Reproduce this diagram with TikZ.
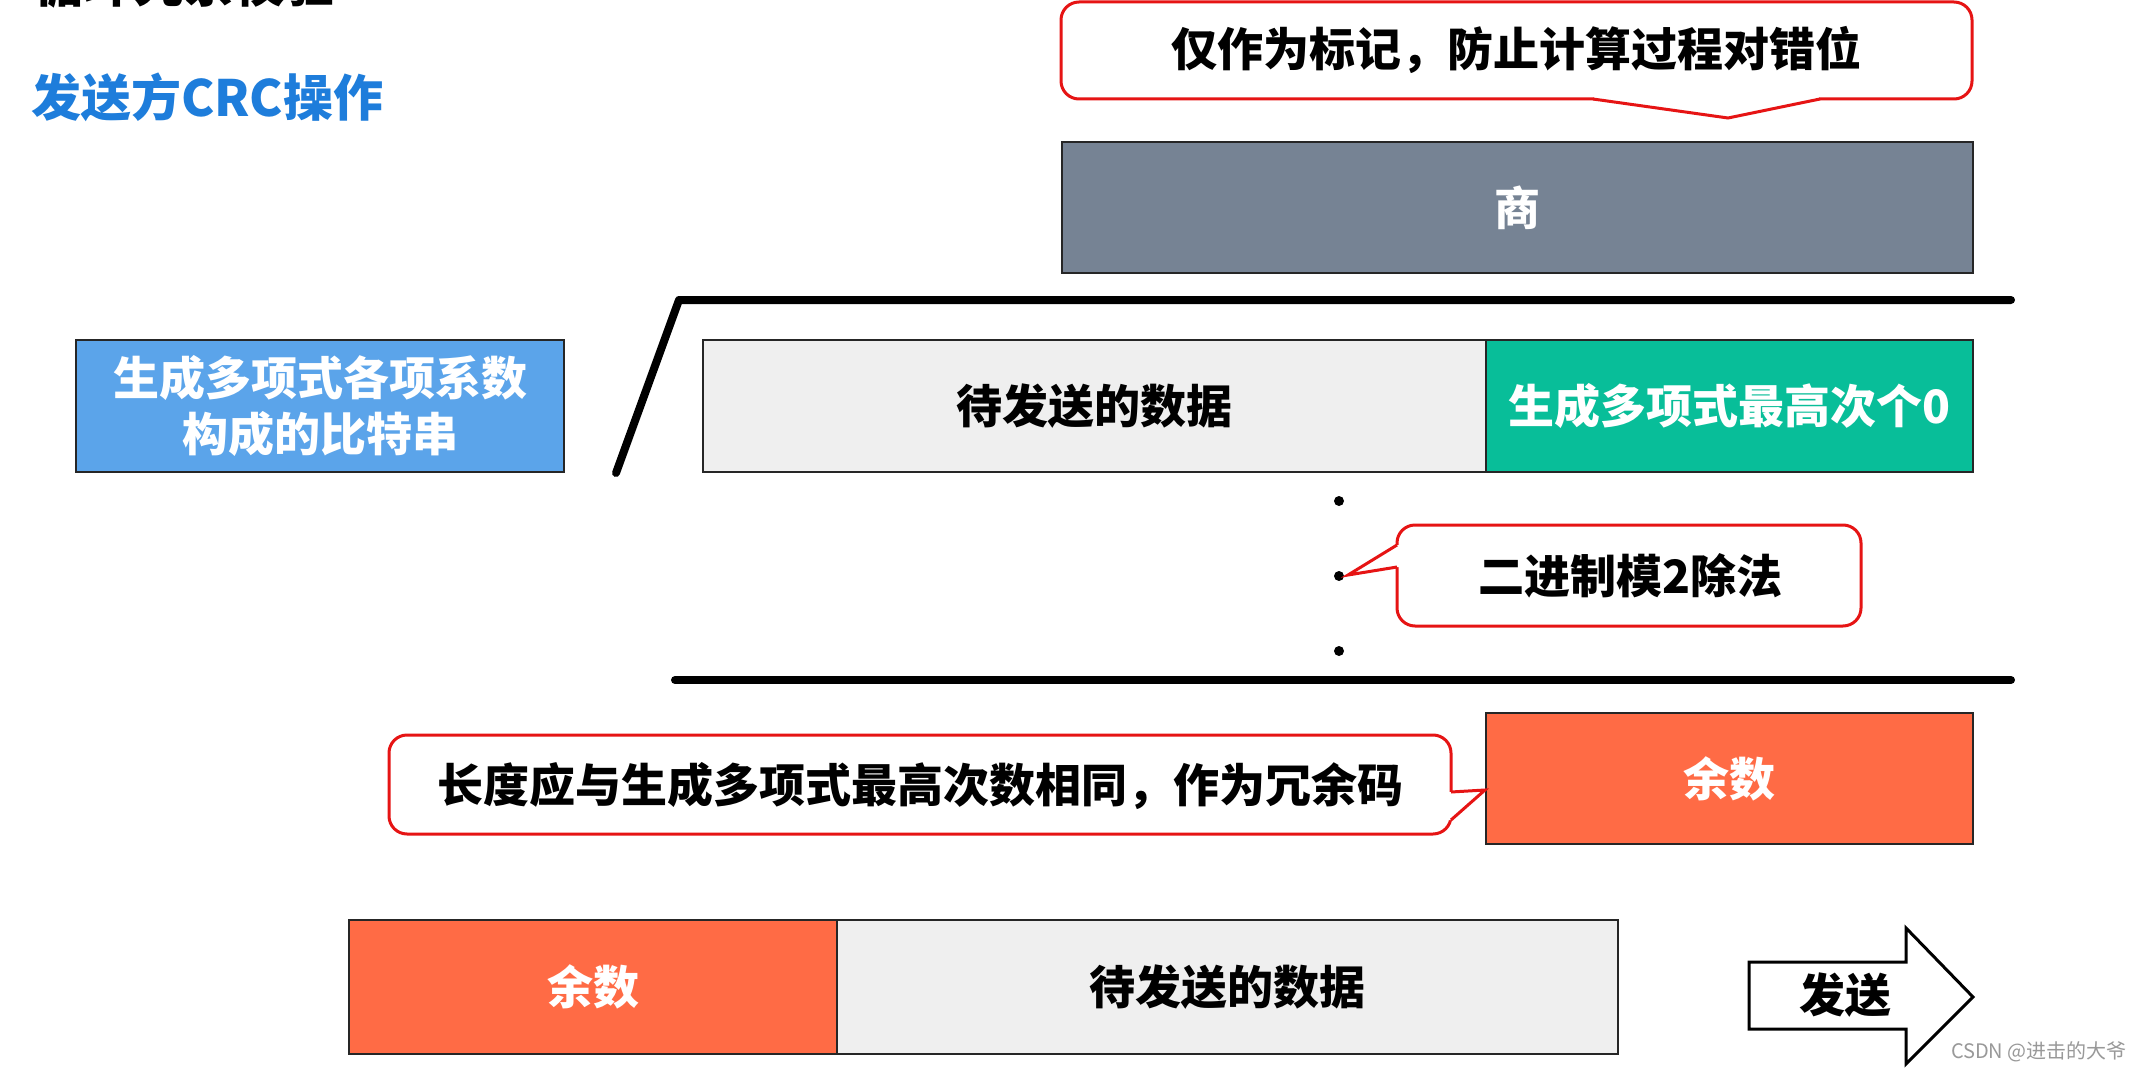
\documentclass[tikz,border=0pt]{standalone}
\usepackage{fontspec}
\setmainfont{Noto Sans CJK SC}
\definecolor{quotc}{HTML}{768394}
\definecolor{bluec}{HTML}{5BA4EA}
\definecolor{datac}{HTML}{EFEFEF}
\definecolor{greenc}{HTML}{08BE99}
\definecolor{remc}{HTML}{FF6B45}
\definecolor{titlec}{HTML}{1E7DDB}
\definecolor{callc}{HTML}{E61414}
\tikzset{
  bigfont/.style={font=\bfseries\fontsize{46}{56}\selectfont},
  cell/.style={draw=black!85, line width=2pt, anchor=north west, inner sep=0pt, bigfont, align=center},
  callout/.style={draw=callc, line width=3pt, fill=white, rounded corners=18pt},
  callptr/.style={draw=callc, line width=3pt, line join=miter},
  divline/.style={line width=8pt, line cap=round, line join=round},
  dot/.style={circle, fill=black, inner sep=0pt, minimum size=10pt},
}
\begin{document}
\begin{tikzpicture}[x=1pt,y=-1pt]
\useasboundingbox[fill=white] (0,0) rectangle (2142,1070);

% cut-off heading and title
\node[anchor=south west, inner sep=0pt, font=\bfseries\fontsize{50}{60}\selectfont] (head) at (34,8) {循环冗余校验};
\node[anchor=west, inner sep=0pt, text=titlec, font=\bfseries\fontsize{50}{60}\selectfont] (title) at (31,97) {发送方CRC操作};

% top callout
\draw[callout] (1061,2) rectangle (1972,99);
\fill[white] (1595,96) -- (1818,96) -- (1820,99) -- (1728,118) -- (1593,99) -- cycle;
\draw[callptr] (1593,99) -- (1728,118) -- (1820,99);
\node[bigfont] (note1) at (1516,50) {仅作为标记，防止计算过程对错位};

% quotient
\node[cell, fill=quotc, text=white, minimum width=911pt, minimum height=131pt] (quot) at (1061,141) {商};

% division sign
\draw[divline] (616,473) -- (679,300) -- (2011,300);

% generator
\node[cell, fill=bluec, text=white, minimum width=488pt, minimum height=132pt] (gen) at (75,339) {生成多项式各项系数\\构成的比特串};

% dividend
\node[cell, fill=datac, text=black, minimum width=783pt, minimum height=132pt] (data1) at (702,339) {待发送的数据};
\node[cell, fill=greenc, text=white, minimum width=487pt, minimum height=132pt] (zeros) at (1485,339) {生成多项式最高次个0};

% dots
\node[dot] (d1) at (1339,501) {};
\node[dot] (d2) at (1339,576) {};
\node[dot] (d3) at (1339,651) {};

% callout 2
\draw[callout] (1397,525) rectangle (1861,626);
\fill[white] (1400,545) -- (1400,567) -- (1397,567) -- (1348,575) -- (1397,545) -- cycle;
\draw[callptr] (1397,545) -- (1348,575) -- (1397,567);
\node[bigfont] (note2) at (1630,576) {二进制模2除法};

% bottom line
\draw[divline] (675,680) -- (2011,680);

% remainder
\node[cell, fill=remc, text=white, minimum width=487pt, minimum height=131pt] (rem1) at (1485,712) {余数};

% callout 3
\draw[callout] (389,735) rectangle (1451,834);
\fill[white] (1448,792) -- (1451,792) -- (1485,790) -- (1451,820) -- (1448,820) -- cycle;
\draw[callptr] (1451,792) -- (1485,790) -- (1451,820);
\node[bigfont] (note3) at (920,786) {长度应与生成多项式最高次数相同，作为冗余码};

% bottom frame
\node[cell, fill=remc, text=white, minimum width=488pt, minimum height=134pt] (rem2) at (348,919) {余数};
\node[cell, fill=datac, text=black, minimum width=781pt, minimum height=134pt] (data2) at (836,919) {待发送的数据};

% send arrow
\draw[line width=3pt, line join=miter, fill=white] (1749,962) -- (1906,962) -- (1906,928) -- (1973,997) -- (1906,1064) -- (1906,1029) -- (1749,1029) -- cycle;
\node[bigfont] (send) at (1845,995) {发送};

% watermark
\node[anchor=east, inner sep=0pt, text=black!40, font=\fontsize{20}{24}\selectfont] (wm) at (2127,1052) {CSDN @进击的大爷};
\end{tikzpicture}
\end{document}
